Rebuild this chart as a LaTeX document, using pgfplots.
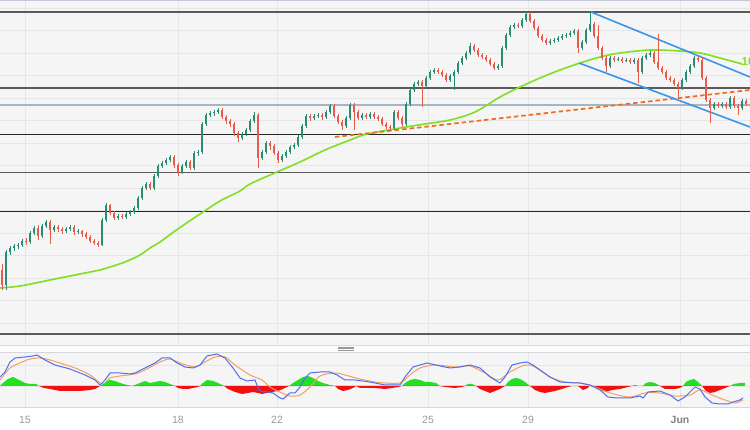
\documentclass[border=0pt]{standalone}
\usepackage{pgfplots}
\pgfplotsset{compat=1.18}
\usepackage{pgfplotstable}
\usepackage{fontspec}
\setmainfont{Liberation Sans}
\definecolor{bgc}{HTML}{F5F5F5}
\definecolor{gridc}{HTML}{E6E6E6}
\definecolor{upc}{HTML}{2A8C74}
\definecolor{dnc}{HTML}{E65C4C}
\definecolor{smac}{HTML}{7EE021}
\definecolor{chanc}{HTML}{3A96E8}
\definecolor{trendc}{HTML}{F26A1F}
\definecolor{lvlc}{HTML}{5A5A5A}
\definecolor{lvlb}{HTML}{A7B4C4}
\definecolor{macdc}{HTML}{4F6EF0}
\definecolor{sigc}{HTML}{F2A060}
\definecolor{hgc}{HTML}{22E022}
\definecolor{hrc}{HTML}{F01010}
\definecolor{labc}{HTML}{999999}
\definecolor{labj}{HTML}{808080}

% pixel-based price rows: x open high low close (screen y, smaller = higher price)
\pgfplotstableread{
x o h l c
2 270 264 290 285
6 285 250 290 252
10 252 246 255 248
14 248 244 251 246
18 246 243 249 245
22 245 239 247 241
26 241 238 245 242
30 242 231 244 233
34 233 226 235 228
38 228 225 240 236
42 236 224 238 226
46 226 220 228 222
50 222 220 244 230
54 230 225 232 227
58 227 225 232 229
62 229 227 234 231
66 231 227 233 229
70 229 225 231 227
74 227 225 235 232
78 232 229 234 231
82 231 230 237 234
86 234 232 239 237
90 237 235 243 241
94 241 239 245 243
98 243 241 247 245
102 245 218 246 220
106 220 203 222 205
110 205 204 215 213
114 213 211 220 218
118 218 214 220 216
122 216 214 219 217
126 217 212 219 214
130 214 210 216 212
134 212 206 214 208
138 208 196 210 198
142 198 186 200 188
146 188 182 190 184
150 184 182 190 188
154 188 174 190 176
158 176 164 178 166
162 166 161 168 163
166 163 158 165 160
170 160 155 162 157
174 157 155 168 165
178 165 163 176 172
182 172 164 174 166
186 166 160 168 162
190 162 160 170 168
194 168 151 170 153
198 153 150 156 152
202 152 122 154 124
206 124 113 126 115
210 115 111 117 113
214 113 110 116 112
218 112 108 114 110
222 110 108 119 117
226 117 115 124 121
230 121 119 127 124
234 124 122 136 133
238 133 131 142 138
242 138 132 140 134
246 134 128 136 130
250 130 119 132 121
254 121 112 123 115
258 115 113 168 158
262 158 150 160 152
266 152 141 154 143
270 143 141 150 146
274 146 144 155 153
278 153 151 163 160
282 160 154 162 156
286 156 150 158 152
290 152 145 154 147
294 147 143 149 145
298 145 135 147 137
302 137 124 139 126
306 126 114 128 116
310 116 114 121 118
314 118 114 120 116
318 116 113 118 115
322 115 113 120 117
326 117 110 119 112
330 112 104 114 106
334 106 104 118 116
338 116 114 124 122
342 122 120 130 126
346 126 116 128 118
350 118 103 120 105
354 105 103 130 112
358 112 110 120 118
362 118 113 120 115
366 115 113 119 117
370 117 112 119 114
374 114 112 119 117
378 117 115 121 119
382 119 117 126 124
386 124 122 129 127
390 127 125 131 128
394 128 110 130 112
398 112 110 120 118
402 118 116 127 124
406 124 102 126 104
410 104 88 106 90
414 90 82 92 84
418 84 80 86 82
422 82 80 107 86
426 86 76 88 78
430 78 70 80 72
434 72 68 74 70
438 70 68 74 72
442 72 70 77 75
446 75 73 82 80
450 80 74 82 76
454 76 70 90 72
458 72 61 74 63
462 63 56 65 58
466 58 51 60 53
470 53 43 55 46
474 46 44 52 50
478 50 48 57 55
482 55 53 59 57
486 57 55 62 60
490 60 58 66 64
494 64 62 70 68
498 68 64 70 66
502 66 46 68 48
506 48 33 50 35
510 35 25 37 27
514 27 23 29 25
518 25 23 28 26
522 26 18 28 20
526 20 12 22 14
530 14 12 23 21
534 21 19 30 28
538 28 26 38 36
542 36 34 42 40
546 40 38 45 43
550 43 39 45 41
554 41 38 43 40
558 40 36 42 38
562 38 34 40 36
566 36 33 38 35
570 35 31 37 33
574 33 29 35 31
578 31 29 53 48
582 48 40 50 42
586 42 28 44 30
590 30 12 32 24
594 24 22 38 36
598 36 25 50 48
602 48 46 60 58
606 58 56 72 66
610 66 56 68 58
614 58 56 62 60
618 60 57 61 59
622 59 57 63 61
626 61 58 62 60
630 60 58 64 62
634 62 58 64 60
638 60 58 83 72
642 72 56 74 58
646 58 53 60 55
650 55 51 57 53
654 53 51 64 62
658 62 34 70 68
662 68 66 74 72
666 72 70 80 78
670 78 76 82 80
674 80 78 86 84
678 84 82 98 88
682 88 78 90 80
686 80 70 82 72
690 72 64 74 66
694 66 56 68 58
698 58 56 62 60
702 60 58 80 78
706 78 76 102 100
710 100 98 123 108
714 108 102 110 104
718 104 102 108 106
722 106 102 108 104
726 104 102 109 107
730 107 96 109 98
734 98 96 108 106
738 106 104 115 108
742 108 99 110 101
746 101 99 106 104
}\candles

\begin{document}
\begin{tikzpicture}[x=1pt,y=1pt]
\fill[bgc] (0,0) rectangle (750,430);
\fill[white] (0,0) rectangle (750,22.5);
% separator band between panels
\fill[white!70!bgc] (0,78) rectangle (750,85);
\draw[gridc!80!lvlb, line width=0.8pt] (0,85) -- (750,85);
\draw[gridc!80!lvlb, line width=0.8pt] (0,78) -- (750,78);
\foreach \yy in {82.8,81.3,79.8} \draw[gray!80, line width=0.7pt] (338,\yy) -- (354,\yy);

% ---------------- main panel ----------------
\begin{axis}[
  at={(0pt,85pt)}, anchor=south west,
  scale only axis, width=750pt, height=345pt,
  xmin=0, xmax=750, ymin=0, ymax=345,
  y dir=reverse,
  axis line style={draw=none},
  major tick length=0pt,
  xtick={25,178,277,428,528,680}, xticklabels={},
  ytick={8,30.5,53,75.5,98,120.5,143,165.5,188,210.5,233,255.5,278,300.5,323}, yticklabels={},
  xmajorgrids, ymajorgrids,
  grid style={gridc, line width=0.8pt},
  clip=true,
]
% horizontal levels
\addplot[lvlb!70!white, line width=1.2pt] coordinates {(0,0.6) (750,0.6)};
\addplot[lvlc, line width=1.5pt] coordinates {(0,12) (750,12)};
\addplot[lvlc, line width=1.5pt] coordinates {(0,88) (750,88)};
\addplot[lvlb, line width=1.8pt] coordinates {(0,105) (750,105)};
\addplot[black!85, line width=0.9pt] coordinates {(0,134) (750,134)};
\addplot[lvlc, line width=1.5pt] coordinates {(0,172.5) (750,172.5)};
\addplot[black!85, line width=0.9pt] coordinates {(0,211) (750,211)};
\addplot[lvlc, line width=1.5pt] coordinates {(0,334) (750,334)};

% 100 SMA
\addplot[smac, line width=1.6pt, smooth] coordinates {
(0,288) (20,286) (50,280) (80,274) (100,270) (107,268) (125,262) (140,255) (150,248) (160,242) (175,231) (200,214) (220,201) (240,191) (250,184) (277,172) (300,162) (325,150) (350,140) (367,134) (400,128) (425,124) (450,120) (475,112) (500,97) (520,87) (540,78) (560,70) (580,63) (600,57) (620,53) (650,50) (680,51) (700,53) (720,58) (742,64)};

% orange dashed trend line
\addplot[trendc, line width=1.7pt, dash pattern=on 4.5pt off 3pt] coordinates {(335,137) (750,90)};

% blue channel
\addplot[chanc, line width=1.6pt] coordinates {(591,12) (750,77)};
\addplot[chanc, line width=1.6pt] coordinates {(579,63) (750,127)};

% candles: wicks
\addplot[draw=none, mark=none, forget plot, error bars/.cd, y dir=both, y explicit, error mark=none,
  error bar style={line width=0.8pt, upc}]
  table[x=x, y expr={\thisrow{c}<\thisrow{o} ? (\thisrow{h}+\thisrow{l})/2 : nan}, y error expr={(\thisrow{l}-\thisrow{h})/2}] {\candles};
\addplot[draw=none, mark=none, forget plot, error bars/.cd, y dir=both, y explicit, error mark=none,
  error bar style={line width=0.8pt, dnc}]
  table[x=x, y expr={\thisrow{c}<\thisrow{o} ? nan : (\thisrow{h}+\thisrow{l})/2}, y error expr={(\thisrow{l}-\thisrow{h})/2}] {\candles};
% candles: bodies
\addplot[draw=none, mark=none, forget plot, error bars/.cd, y dir=both, y explicit, error mark=none,
  error bar style={line width=2.6pt, upc}]
  table[x=x, y expr={\thisrow{c}<\thisrow{o} ? (\thisrow{o}+\thisrow{c})/2 : nan}, y error expr={max(abs(\thisrow{o}-\thisrow{c})/2,0.6)}] {\candles};
\addplot[draw=none, mark=none, forget plot, error bars/.cd, y dir=both, y explicit, error mark=none,
  error bar style={line width=2.6pt, dnc}]
  table[x=x, y expr={\thisrow{c}<\thisrow{o} ? nan : (\thisrow{o}+\thisrow{c})/2}, y error expr={max(abs(\thisrow{o}-\thisrow{c})/2,0.6)}] {\candles};

\node[anchor=west, text=smac, font=\bfseries\fontsize{11.5}{12}\selectfont, inner sep=0pt] at (axis cs:741.5,62) {100 SMA};
\end{axis}

% ---------------- indicator panel ----------------
\begin{axis}[
  at={(0pt,22.5pt)}, anchor=south west,
  scale only axis, width=750pt, height=55.5pt,
  xmin=0, xmax=750, ymin=-21.5, ymax=34,
  axis line style={draw=none},
  major tick length=0pt,
  xtick={25,178,277,428,528,680},
  xticklabels={15,18,22,25,29,\textcolor{labj}{\textbf{Jun}}},
  xticklabel style={text=labc, font=\fontsize{10.5}{12}\selectfont, yshift=-5.5pt},
  ytick={0,21}, yticklabels={},
  xmajorgrids, ymajorgrids,
  grid style={gridc, line width=0.8pt},
  clip=true,
]
\addplot[gridc!70!lvlb, line width=1pt] coordinates {(0,-21.5) (750,-21.5)};
\addplot[gridc!70!lvlb, line width=0.8pt] coordinates {(0,33.5) (750,33.5)};
% histogram positive
\addplot[fill=hgc, draw=none] coordinates {
(0,0) (3,3) (8,7) (13,9) (17,7) (21,5) (25,3) (30,2) (36,2) (39,0)
(100,0) (103,2) (107,5) (110,6) (115,5) (120,3) (127,1) (132,0)
(135,1) (140,3) (145,5) (150,3) (155,4) (160,5) (165,4) (170,2) (175,0)
(200,0) (203,3) (207,6) (213,5) (218,3) (224,0)
(289,0) (293,3) (298,6) (303,9) (308,10) (313,8) (318,5) (323,3) (330,1) (335,0)
(402,0) (405,3) (410,6) (415,7) (420,6) (425,4) (430,4) (436,3) (440,0)
(465,0) (468,2) (472,2) (476,0)
(505,0) (508,4) (512,7) (516,8) (520,7) (525,4) (530,0)
(589,0) (591,1) (593,0)
(632,0) (635,1) (638,0)
(643,0) (646,3) (650,4) (655,3) (660,0)
(683,0) (686,4) (690,6) (694,7) (698,4) (702,0)
(730,0) (734,2) (740,3) (745,3)} \closedcycle;
% histogram negative
\addplot[fill=hrc, draw=none] coordinates {
(39,0) (44,-2) (50,-3) (55,-4) (60,-5) (70,-5) (80,-5) (90,-4) (95,-3) (100,0)
(175,0) (178,-2) (183,-3) (188,-3) (193,-2) (198,-1) (200,0)
(224,0) (228,-3) (235,-6) (242,-8) (248,-7) (253,-6) (258,-7) (262,-8) (267,-7) (272,-6) (278,-5) (283,-3) (289,0)
(335,0) (338,-3) (343,-5) (348,-4) (353,-2) (356,0) (360,-2) (370,-2) (375,-2) (385,-3) (392,-2) (398,-1) (402,0)
(440,0) (445,-1) (455,-2) (462,-1) (465,0)
(476,0) (480,-3) (485,-5) (490,-7) (495,-5) (500,-3) (505,0)
(530,0) (535,-4) (540,-6) (545,-7) (550,-6) (555,-5) (562,-3) (568,-1) (572,0)
(578,0) (583,-4) (588,-2) (589,0)
(593,0) (600,-4) (606,-6) (612,-4) (620,-3) (628,-1) (632,0)
(660,0) (665,-3) (670,-3) (675,-3) (680,-2) (683,0)
(702,0) (706,-5) (710,-7) (715,-6) (720,-4) (725,-2) (730,0)} \closedcycle;
% signal line
\addplot[sigc, line width=1pt, smooth] coordinates {
(0,6) (10,18) (20,23) (30,27) (40,28) (50,26) (60,23) (75,18) (90,11) (100,3) (105,3) (110,8) (120,10) (135,12) (145,16) (160,24) (170,27) (180,23) (195,19) (205,24) (215,29) (225,29) (235,21) (250,11) (262,6) (270,-1) (282,-7) (290,-10) (300,-9) (310,-1) (320,10) (335,13) (345,11) (360,7) (375,4) (385,3) (400,3) (410,11) (420,18) (435,21) (455,19) (470,20) (485,13) (498,6) (510,14) (525,21) (535,19) (550,9) (565,4) (580,3) (595,-1) (610,-7) (630,-11) (645,-7) (660,-7) (675,-10) (690,-9) (700,-4) (712,-9) (725,-14) (735,-17) (743,-14)};
% macd line
\addplot[macdc, line width=1pt] coordinates {
(0,9) (5,14) (10,24) (15,28) (25,29) (33,30) (37,31) (45,26) (55,21) (70,17) (85,11) (95,6) (100,1) (105,6) (110,13) (120,13) (130,12) (135,13) (145,18) (155,23) (162,28) (170,28) (177,23) (185,19) (193,18) (200,21) (207,30) (217,32) (225,28) (233,18) (240,8) (247,5) (255,6) (258,-2) (262,-6) (267,-6) (273,-7) (280,-12) (283,-13) (290,-7) (295,-7) (300,-1) (305,8) (310,13) (320,14) (330,14) (337,11) (345,6) (355,6) (370,4) (375,3) (385,1) (395,1) (400,1) (405,9) (413,19) (420,21) (427,23) (440,20) (450,18) (460,19) (470,21) (480,18) (490,9) (500,3) (505,9) (512,21) (520,23) (527,24) (533,21) (540,16) (550,9) (560,4) (575,3) (580,3) (590,1) (600,-4) (608,-11) (617,-12) (630,-12) (640,-10) (643,-12) (648,-6) (660,-5) (670,-9) (678,-15) (685,-11) (690,-6) (695,-1) (700,-3) (705,-11) (712,-17) (720,-18) (728,-18) (733,-16) (740,-14) (743,-12)};
\end{axis}
\pgfresetboundingbox
\useasboundingbox (0,0) rectangle (750,430);
\end{tikzpicture}
\end{document}
